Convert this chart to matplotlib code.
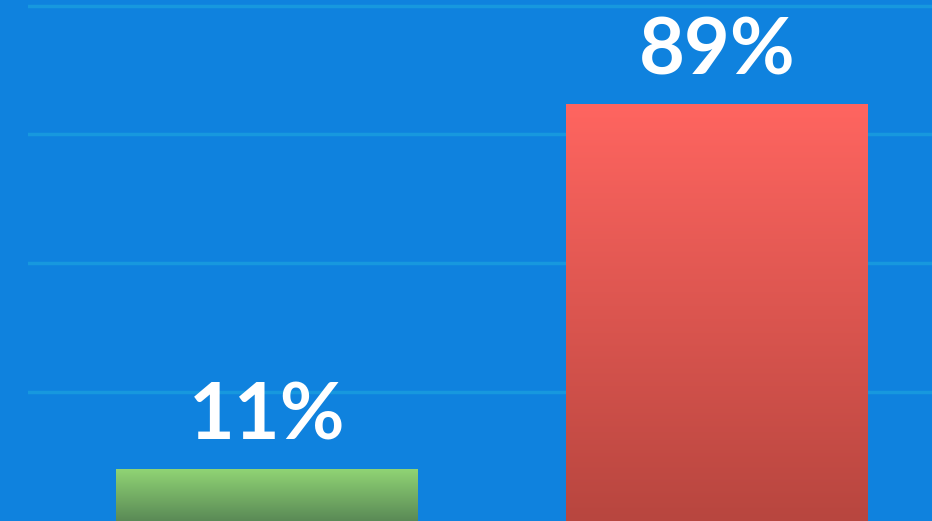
import matplotlib
matplotlib.use("Agg")
import matplotlib.pyplot as plt
import numpy as np
from matplotlib.colors import LinearSegmentedColormap

# share of answers per option
options = ["A", "B"]
shares = [11, 89]
labels = ["11%", "89%"]
tops = ["#90d474", "#ff6560"]
bottoms = ["#5a8a56", "#b8463f"]

bg = "#0f82de"

fig = plt.figure(figsize=(9.32, 5.21), dpi=100)
fig.patch.set_facecolor(bg)
ax = fig.add_axes([28 / 932, 0, 904 / 932, 1])
ax.set_facecolor(bg)

x = np.arange(len(options))
bars = ax.bar(x, shares, width=0.671, color="none", zorder=3)

# vertical gradient fill inside each bar
grad = np.linspace(1, 0, 256).reshape(-1, 1)
for bar, top, bottom in zip(bars, tops, bottoms):
    cmap = LinearSegmentedColormap.from_list("g", [bottom, top])
    x0, w, h = bar.get_x(), bar.get_width(), bar.get_height()
    im = ax.imshow(grad, cmap=cmap, aspect="auto", extent=[x0, x0 + w, 0, h],
                   zorder=3, interpolation="bicubic")
    im.set_clip_path(bar)

for bar, text in zip(bars, labels):
    ax.annotate(text, (bar.get_x() + bar.get_width() / 2, bar.get_height()),
                xytext=(0, 21.5), textcoords="offset points",
                ha="center", va="baseline", color="white",
                fontsize=57, fontweight="bold", family="Lato", zorder=4)

ax.set_xlim(-0.531, 1.478)
ax.set_ylim(0, 111.2)
ax.set_yticks([27.5, 55, 82.5, 110])
ax.grid(axis="y", color="#1798de", linewidth=2.5, zorder=1)
ax.set_axisbelow(True)
ax.tick_params(left=False, bottom=False, labelleft=False, labelbottom=False)
for s in ax.spines.values():
    s.set_visible(False)

fig.savefig("out.png", dpi=100, facecolor=bg)
